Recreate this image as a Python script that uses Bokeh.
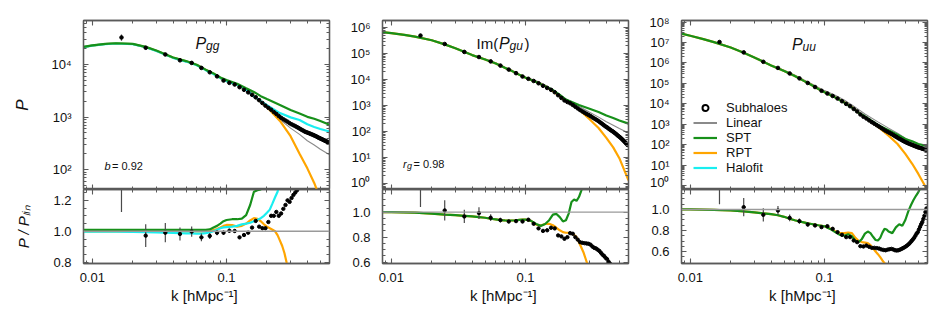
from bokeh.plotting import figure
from bokeh.layouts import row, column
from bokeh.models import (FixedTicker, LogAxis, LinearAxis,
                          Span, Label, Legend, LegendItem)
from bokeh.embed import file_html
from bokeh.resources import INLINE

# ---------------- data ----------------
# subhalo measurements (bin centres)
k_pts = [0.0165, 0.025, 0.035, 0.045, 0.055, 0.065, 0.075, 0.085, 0.095, 0.105,
         0.115, 0.125, 0.135, 0.145, 0.155, 0.165, 0.175, 0.185, 0.195, 0.205,
         0.215, 0.225, 0.235, 0.245, 0.255, 0.265, 0.275, 0.285, 0.295, 0.305,
         0.315, 0.325, 0.335, 0.345, 0.355, 0.365, 0.375, 0.385, 0.395, 0.405,
         0.415, 0.425, 0.435, 0.445, 0.455, 0.465, 0.475, 0.485, 0.495, 0.505,
         0.515, 0.525, 0.535, 0.545, 0.555, 0.565, 0.575]

P_gg_pts = [3.26e4, 2.08e4, 1.55e4, 1.2e4, 1.07e4, 8.6e3, 7.1e3, 5.95e3, 4.95e3, 4.47e3,
            4.16e3, 3.7e3, 3.3e3, 2.95e3, 2.65e3, 2.38e3, 2.1e3, 1.85e3, 1.65e3, 1.5e3,
            1.38e3, 1.25e3, 1.15e3, 1.05e3, 970, 910, 860, 815, 765, 729,
            701, 673, 645, 618, 592, 568, 547, 527, 514, 501,
            489, 477, 465, 453, 442, 431, 418, 406, 396, 387,
            378, 369, 360, 353, 345, 336, 329]
R_gg_pts = [1.30, 0.972, 0.991, 0.983, 0.998, 0.961, 0.970, 0.991, 0.991, 1.004,
            1.002, 0.961, 0.976, 0.991, 1.024, 1.067, 1.030, 1.020, 1.020, 1.060,
            1.100, 1.100, 1.125, 1.100, 1.115, 1.145, 1.170, 1.200, 1.190, 1.215,
            1.235, 1.250, 1.265, 1.280, 1.300, 1.320, 1.350, 1.380, 1.420, 1.440,
            1.460, 1.480, 1.500, 1.510, 1.530, 1.550, 1.560, 1.580, 1.590, 1.600,
            1.610, 1.620, 1.630, 1.640, 1.650, 1.655, 1.660]
E_gg = [0.135, 0.076, 0.063, 0.043, 0.033, 0.026, 0.020, 0.017, 0.015, 0.012,
        0.011, 0.010, 0.009, 0.008, 0.008, 0.007, 0.007, 0.007, 0.006, 0.006,
        0.006, 0.006, 0.006, 0.006, 0.005, 0.005, 0.005, 0.005, 0.005, 0.005,
        0.005, 0.005, 0.005, 0.005, 0.005, 0.005, 0.005, 0.005, 0.005, 0.005,
        0.005, 0.005, 0.005, 0.005, 0.005, 0.005, 0.005, 0.005, 0.005, 0.005,
        0.005, 0.005, 0.005, 0.005, 0.005, 0.005, 0.005]

P_gu_pts = [5.0e5, 2.37e5, 1.175e5, 7.47e4, 5.08e4, 3.5e4, 2.46e4, 1.79e4, 1.33e4, 1.087e4,
            8.95e3, 7.32e3, 5.85e3, 4.83e3, 4.09e3, 3.31e3, 2.54e3, 2.0e3, 1.6e3, 1.39e3,
            1.25e3, 1.075e3, 917, 788, 684, 607, 542, 486, 440, 398,
            357, 324, 295, 268, 242, 217, 195, 176, 159, 147,
            133, 122, 112, 104, 95.5, 87.4, 80.2, 72.4, 66.7, 61.6,
            56.1, 51.0, 46.3, 42.0, 38.1, 34.4, 31.1]
R_gu_pts = [1.20, 1.013, 0.965, 0.992, 0.955, 0.936, 0.925, 0.928, 0.925, 0.939,
            0.907, 0.870, 0.850, 0.855, 0.875, 0.870, 0.814, 0.806, 0.787, 0.800,
            0.832, 0.827, 0.800, 0.780, 0.760, 0.755, 0.752, 0.750, 0.747, 0.740,
            0.725, 0.715, 0.710, 0.700, 0.690, 0.675, 0.660, 0.650, 0.635, 0.625,
            0.605, 0.590, 0.575, 0.565, 0.550, 0.535, 0.520, 0.500, 0.485, 0.470,
            0.450, 0.430, 0.410, 0.390, 0.370, 0.350, 0.330]
E_gu = [0.133, 0.080, 0.055, 0.047, 0.028, 0.021, 0.016, 0.015, 0.013, 0.011,
        0.010, 0.009, 0.009, 0.008, 0.008, 0.007, 0.007, 0.007, 0.006, 0.006,
        0.006, 0.006, 0.006, 0.006, 0.005, 0.005, 0.005, 0.005, 0.005, 0.005,
        0.005, 0.005, 0.005, 0.005, 0.005, 0.005, 0.005, 0.005, 0.005, 0.005,
        0.005, 0.005, 0.005, 0.005, 0.005, 0.005, 0.005, 0.005, 0.005, 0.005,
        0.005, 0.005, 0.005, 0.005, 0.005, 0.005, 0.005]

P_uu_pts = [1.06e7, 3.3e6, 1.14e6, 5.72e5, 3.07e5, 1.77e5, 1.05e5, 6.64e4, 4.35e4, 3.2e4,
            2.42e4, 1.82e4, 1.34e4, 9.92e3, 7.67e3, 5.62e3, 4.24e3, 3.02e3, 2.33e3, 1.92e3,
            1.55e3, 1.27e3, 1.07e3, 899, 766, 650, 556, 480, 425, 379,
            338, 298, 262, 234, 208, 188, 170, 154, 140, 130,
            121, 113, 106, 100, 94.2, 88.5, 84.1, 79.4, 75.2, 72.5,
            69.8, 67.1, 64.1, 62.2, 60.2, 58.5, 57.1]
R_uu_pts = [1.22, 1.022, 0.949, 0.990, 0.920, 0.889, 0.857, 0.848, 0.832, 0.841,
            0.816, 0.784, 0.759, 0.737, 0.737, 0.705, 0.689, 0.651, 0.648, 0.657,
            0.645, 0.635, 0.635, 0.632, 0.628, 0.620, 0.615, 0.612, 0.618, 0.622,
            0.625, 0.620, 0.612, 0.610, 0.612, 0.618, 0.625, 0.633, 0.641, 0.650,
            0.660, 0.672, 0.685, 0.700, 0.715, 0.730, 0.750, 0.770, 0.784, 0.810,
            0.835, 0.860, 0.880, 0.910, 0.940, 0.975, 1.010]
E_uu = [0.140, 0.085, 0.066, 0.044, 0.035, 0.028, 0.023, 0.018, 0.014, 0.012,
        0.011, 0.010, 0.009, 0.008, 0.008, 0.007, 0.007, 0.007, 0.006, 0.006,
        0.006, 0.006, 0.006, 0.006, 0.005, 0.005, 0.005, 0.005, 0.005, 0.005,
        0.005, 0.005, 0.005, 0.005, 0.005, 0.005, 0.005, 0.005, 0.005, 0.005,
        0.005, 0.005, 0.005, 0.005, 0.005, 0.005, 0.005, 0.005, 0.005, 0.005,
        0.005, 0.005, 0.005, 0.005, 0.005, 0.005, 0.005]

# model spectra (upper panels)
k_top = [0.0086, 0.01, 0.0125, 0.015, 0.02, 0.025, 0.03, 0.04, 0.05, 0.06,
         0.07, 0.08, 0.09, 0.1, 0.12, 0.14, 0.16, 0.18, 0.2, 0.25,
         0.3, 0.35, 0.4, 0.45, 0.5, 0.585]

gg_lin = [2.14e4, 2.29e4, 2.45e4, 2.51e4, 2.45e4, 2.14e4, 1.82e4, 1.35e4, 1.15e4, 9.8e3,
          7.9e3, 6.6e3, 5.4e3, 4.7e3, 4.0e3, 3.2e3, 2.35e3, 1.85e3, 1.5e3, 900,
          617, 468, 355, 295, 245, 193]
gg_spt = [2.16e4, 2.31e4, 2.47e4, 2.53e4, 2.47e4, 2.16e4, 1.84e4, 1.36e4, 1.16e4, 9.9e3,
          7.97e3, 6.77e3, 5.67e3, 5.04e3, 4.31e3, 3.54e3, 3.0e3, 2.5e3, 2.2e3, 1.7e3,
          1.36e3, 1.17e3, 1.01e3, 929, 845, 714]
gg_rpt = [2.14e4, 2.29e4, 2.45e4, 2.51e4, 2.45e4, 2.14e4, 1.82e4, 1.35e4, 1.15e4, 9.8e3,
          7.9e3, 6.65e3, 5.54e3, 4.89e3, 4.12e3, 3.36e3, 2.55e3, 1.97e3, 1.55e3, 846,
          432, 201, 106, 56, 28, 7.7]
gg_halo = [2.136e4, 2.285e4, 2.443e4, 2.502e4, 2.44e4, 2.127e4, 1.807e4, 1.337e4, 1.135e4, 9.65e3,
           7.8e3, 6.6e3, 5.5e3, 4.83e3, 4.14e3, 3.36e3, 2.5e3, 2.0e3, 1.68e3, 1.19e3,
           987, 880, 728, 649, 593, 531]

gu_lin = [6.8e5, 6.26e5, 5.36e5, 4.57e5, 3.35e5, 2.34e5, 1.66e5, 9.2e4, 6.3e4, 4.46e4,
          3.08e4, 2.25e4, 1.64e4, 1.28e4, 9.1e3, 6.25e3, 4.1e3, 2.7e3, 1.84e3, 951,
          562, 365, 243, 179, 134, 90]
gu_spt = [6.8e5, 6.25e5, 5.34e5, 4.55e5, 3.31e5, 2.29e5, 1.62e5, 8.88e4, 6.02e4, 4.2e4,
          2.88e4, 2.1e4, 1.54e4, 1.2e4, 8.24e3, 5.66e3, 4.02e3, 2.59e3, 1.72e3, 1.065e3,
          770, 573, 418, 335, 271, 205]
gu_rpt = [6.8e5, 6.25e5, 5.34e5, 4.55e5, 3.31e5, 2.29e5, 1.62e5, 8.88e4, 6.02e4, 4.2e4,
          2.88e4, 2.1e4, 1.54e4, 1.2e4, 8.19e3, 5.66e3, 3.67e3, 2.31e3, 1.54e3, 723,
          303, 139, 58, 25, 9.6, 1.35]

uu_lin = [2.73e7, 2.16e7, 1.48e7, 1.05e7, 5.78e6, 3.23e6, 1.91e6, 7.96e5, 4.34e5, 2.57e5,
          1.52e5, 9.73e4, 6.29e4, 4.43e4, 2.62e4, 1.54e4, 8.85e3, 5.18e3, 3.18e3, 1.31e3,
          647, 360, 209, 137, 92.5, 53.2]
uu_spt = [2.73e7, 2.16e7, 1.477e7, 1.046e7, 5.72e6, 3.17e6, 1.86e6, 7.6e5, 4.04e5, 2.31e5,
          1.33e5, 8.39e4, 5.35e4, 3.72e4, 2.06e4, 1.155e4, 6.59e3, 3.57e3, 2.45e3, 924,
          511, 306, 188, 146, 108, 85]
uu_rpt = [2.73e7, 2.16e7, 1.477e7, 1.046e7, 5.72e6, 3.17e6, 1.86e6, 7.6e5, 4.04e5, 2.31e5,
          1.33e5, 8.39e4, 5.35e4, 3.72e4, 2.07e4, 1.19e4, 6.86e3, 3.63e3, 2.18e3, 753,
          278, 108, 35.5, 11.6, 3.7, 0.585]

# model / linear ratios (lower panels)
k_rat = [0.0086, 0.01, 0.015, 0.02, 0.025, 0.03, 0.035, 0.04, 0.045, 0.05,
         0.055, 0.06, 0.065, 0.07, 0.075, 0.08, 0.085, 0.09, 0.095, 0.1,
         0.11, 0.12, 0.13, 0.14, 0.15, 0.16, 0.17, 0.18, 0.19, 0.2,
         0.21, 0.22, 0.23, 0.24, 0.25, 0.26, 0.27, 0.28, 0.29, 0.3,
         0.32, 0.34, 0.36, 0.38, 0.4, 0.42, 0.44, 0.46, 0.48, 0.5,
         0.52, 0.54, 0.56, 0.585]

rgg_spt = [1.009, 1.009, 1.009, 1.009, 1.009, 1.009, 1.009, 1.009, 1.009, 1.009,
           1.009, 1.009, 1.009, 1.009, 1.012, 1.025, 1.035, 1.05, 1.065, 1.073,
           1.078, 1.078, 1.082, 1.105, 1.17, 1.255, 1.265, 1.27, 1.42, 1.55,
           1.65, 1.72, 1.79, 1.85, 1.92, 1.97, 2.02, 2.07, 2.12, 2.2,
           2.3, 2.42, 2.55, 2.7, 2.85, 2.97, 3.09, 3.21, 3.33, 3.45,
           3.52, 3.58, 3.64, 3.7]
rgg_rpt = [1.0, 1.0, 1.0, 1.0, 1.0, 1.0, 1.0, 1.0, 1.0, 1.0,
           1.0, 1.0, 1.0, 1.0, 1.0, 1.008, 1.015, 1.025, 1.035, 1.041,
           1.04, 1.03, 1.035, 1.05, 1.07, 1.085, 1.08, 1.065, 1.045, 1.03,
           1.02, 1.01, 1.0, 0.975, 0.94, 0.905, 0.86, 0.80, 0.75, 0.70,
           0.61, 0.52, 0.45, 0.37, 0.30, 0.26, 0.21, 0.18, 0.14, 0.115,
           0.09, 0.07, 0.055, 0.04]
rgg_halo = [0.998, 0.998, 0.997, 0.996, 0.994, 0.993, 0.991, 0.99, 0.988, 0.987,
            0.986, 0.985, 0.985, 0.988, 0.993, 1.0, 1.01, 1.02, 1.025, 1.027,
            1.03, 1.035, 1.045, 1.05, 1.055, 1.065, 1.075, 1.085, 1.10, 1.12,
            1.14, 1.18, 1.22, 1.255, 1.32, 1.37, 1.43, 1.49, 1.55, 1.6,
            1.68, 1.78, 1.88, 1.97, 2.05, 2.1, 2.17, 2.23, 2.3, 2.42,
            2.5, 2.57, 2.65, 2.75]

rgu_spt = [1.0, 0.999, 0.995, 0.988, 0.979, 0.975, 0.97, 0.965, 0.96, 0.955,
           0.947, 0.942, 0.936, 0.934, 0.933, 0.933, 0.935, 0.938, 0.94, 0.94,
           0.93, 0.905, 0.89, 0.905, 0.935, 0.98, 0.985, 0.96, 0.925, 0.935,
           0.99, 1.08, 1.10, 1.09, 1.12, 1.17, 1.22, 1.27, 1.32, 1.37,
           1.45, 1.53, 1.6, 1.66, 1.72, 1.78, 1.84, 1.9, 1.96, 2.02,
           2.08, 2.14, 2.2, 2.28]
rgu_rpt = [1.0, 0.999, 0.995, 0.988, 0.979, 0.975, 0.97, 0.965, 0.96, 0.955,
           0.947, 0.942, 0.936, 0.934, 0.933, 0.933, 0.935, 0.938, 0.94, 0.94,
           0.93, 0.90, 0.893, 0.905, 0.907, 0.895, 0.875, 0.855, 0.84, 0.835,
           0.835, 0.83, 0.82, 0.80, 0.76, 0.72, 0.68, 0.63, 0.58, 0.54,
           0.47, 0.41, 0.35, 0.29, 0.24, 0.2, 0.16, 0.125, 0.1, 0.072,
           0.055, 0.04, 0.028, 0.015]

ruu_spt = [1.0, 1.0, 0.996, 0.99, 0.981, 0.972, 0.963, 0.955, 0.945, 0.93,
           0.912, 0.897, 0.886, 0.877, 0.868, 0.862, 0.856, 0.85, 0.845, 0.84,
           0.815, 0.785, 0.758, 0.75, 0.765, 0.745, 0.70, 0.69, 0.72, 0.77,
           0.79, 0.775, 0.74, 0.71, 0.705, 0.73, 0.78, 0.815, 0.81, 0.79,
           0.775, 0.83, 0.86, 0.845, 0.9, 0.98, 1.04, 1.09, 1.13, 1.165,
           1.21, 1.27, 1.4, 1.6]
ruu_rpt = [1.0, 1.0, 0.996, 0.99, 0.981, 0.972, 0.963, 0.955, 0.945, 0.93,
           0.912, 0.897, 0.886, 0.877, 0.868, 0.862, 0.856, 0.85, 0.845, 0.84,
           0.818, 0.792, 0.778, 0.775, 0.78, 0.775, 0.73, 0.70, 0.69, 0.685,
           0.68, 0.66, 0.63, 0.60, 0.575, 0.546, 0.515, 0.49, 0.46, 0.43,
           0.38, 0.33, 0.27, 0.21, 0.17, 0.13, 0.1, 0.075, 0.055, 0.04,
           0.03, 0.022, 0.016, 0.011]

# axis ticks
x_major = [0.01, 0.1]
x_minor = [0.009, 0.02, 0.03, 0.04, 0.05, 0.06, 0.07, 0.08, 0.09, 0.2, 0.3, 0.4, 0.5]
x_labels = {0.01: "0.01", 0.1: "0.1"}

# ---------------- style ----------------
FONT = "Liberation Sans"
FRAME = "#5a5a5a"
TXT = "#111111"
C_LIN = "#8a8a8a"
C_SPT = "#17901a"
C_RPT = "#ffa500"
C_HALO = "#19eef0"
C_PT = "#000000"
C_ERR = "#4a4a4a"
XR = (0.0086, 0.585)
SUP = str.maketrans("0123456789-", "⁰¹²³⁴⁵⁶⁷⁸⁹⁻")
NAN = float("nan")


def style_axis(ax, show_labels):
    ax.major_tick_in = 5
    ax.major_tick_out = 0
    ax.minor_tick_in = 3
    ax.minor_tick_out = 0
    ax.axis_line_color = FRAME
    ax.axis_line_width = 1.3
    ax.major_tick_line_color = FRAME
    ax.minor_tick_line_color = FRAME
    ax.major_tick_line_width = 1.1
    ax.minor_tick_line_width = 1.0
    ax.major_label_text_font = FONT
    ax.major_label_text_color = TXT
    ax.major_label_text_font_size = "13px"
    ax.axis_label_text_font = FONT
    ax.axis_label_text_color = TXT
    if not show_labels:
        ax.major_label_text_font_size = "1px"
        ax.major_label_text_alpha = 0
        ax.major_label_standoff = 0


def make_fig(left, right, top, bottom, fh, yr, ylog):
    p = figure(frame_width=246, frame_height=fh,
               min_border_left=left, min_border_right=right,
               min_border_top=top, min_border_bottom=bottom,
               x_axis_type="log", y_axis_type="log" if ylog else "linear",
               x_range=XR, y_range=yr,
               output_backend="svg", toolbar_location=None)
    p.grid.visible = False
    p.outline_line_color = FRAME
    p.outline_line_width = 1.3
    p.background_fill_color = "white"
    p.border_fill_color = "white"
    return p


def finish_axes(p, yticks, yminor, ylabels, ylog, show_x_labels):
    above = LogAxis(ticker=FixedTicker(ticks=x_major, minor_ticks=x_minor))
    p.add_layout(above, "above")
    yt = FixedTicker(ticks=yticks, minor_ticks=yminor)
    right = LogAxis(ticker=yt) if ylog else LinearAxis(ticker=yt)
    p.add_layout(right, "right")
    bx = p.below[0]
    bx.ticker = FixedTicker(ticks=x_major, minor_ticks=x_minor)
    bx.major_label_overrides = x_labels
    ly = p.left[0]
    ly.ticker = FixedTicker(ticks=yticks, minor_ticks=yminor)
    ly.major_label_overrides = ylabels
    style_axis(above, False)
    style_axis(right, False)
    style_axis(ly, True)
    ly.major_label_standoff = 12
    style_axis(bx, show_x_labels)
    if show_x_labels:
        bx.major_label_standoff = 9
        bx.axis_label = "k  [hMpc⁻¹]"
        bx.axis_label_text_font_size = "15px"
        bx.axis_label_text_font_style = "normal"
        bx.axis_label_standoff = 2


def log_ticks(lo, hi):
    major = [10.0 ** e for e in range(lo, hi + 1)]
    minor = [m * 10.0 ** e for e in range(lo - 1, hi + 1) for m in range(2, 10)]
    labels = {10.0 ** e: "10" + str(e).translate(SUP) for e in range(lo, hi + 1)}
    return major, minor, labels


def lin_ticks(vals, minors):
    return vals, minors, {v: "%.1f" % v for v in vals}


def add_top(p, lin, models, pts_k, pts_p, errs):
    p.line(k_top, lin, line_color=C_LIN, line_width=1.1)
    for name, vals, col in models:
        p.line(k_top, vals, line_color=col, line_width=2.2)
    lo = [v * (1 - e) for v, e in zip(pts_p, errs)]
    hi = [v * (1 + e) for v, e in zip(pts_p, errs)]
    p.segment(pts_k, lo, pts_k, hi, line_color=C_ERR, line_width=1.2)
    p.scatter(pts_k, pts_p, marker="circle", size=3.6, fill_color=C_PT, line_color=C_PT)


def add_bot(p, models, pts_k, pts_r, errs):
    p.add_layout(Span(location=1.0, dimension="width", line_color="#9a9a9a", line_width=1.4))
    for name, vals, col in models:
        p.line(k_rat, vals, line_color=col, line_width=2.2)
    lo = [v - v * e for v, e in zip(pts_r, errs)]
    hi = [v + v * e for v, e in zip(pts_r, errs)]
    p.segment(pts_k, lo, pts_k, hi, line_color=C_ERR, line_width=1.2)
    p.scatter(pts_k, pts_r, marker="circle", size=3.4, fill_color=C_PT, line_color=C_PT)


def lab(p, x, y, text, size, style="normal"):
    p.add_layout(Label(x=x, y=y, x_units="screen", y_units="screen", text=text,
                       text_font=FONT, text_font_size=size, text_font_style=style,
                       text_color=TXT, text_baseline="alphabetic"))


# ---------------- panel 1 : P_gg ----------------
t1 = make_fig(83, 15, 20, 0, 169, (42, 6.85e4), True)
add_top(t1, gg_lin, [("rpt", gg_rpt, C_RPT), ("halo", gg_halo, C_HALO), ("spt", gg_spt, C_SPT)],
        k_pts, P_gg_pts, E_gg)
maj, mnr, lbl = log_ticks(2, 4)
finish_axes(t1, maj, mnr, lbl, True, False)
t1.left[0].axis_label = "P"
t1.left[0].axis_label_text_font_style = "italic"
t1.left[0].axis_label_text_font_size = "17px"
t1.left[0].axis_label_standoff = 16
lab(t1, 112, 146, "P", "16px", "italic")
lab(t1, 122.5, 144, "gg", "12px", "italic")
lab(t1, 21, 24, "b", "11px", "italic")
lab(t1, 28.5, 24, "= 0.92", "11px")

b1 = make_fig(83, 15, 0, 45, 74, (0.792, 1.27), False)
add_bot(b1, [("rpt", rgg_rpt, C_RPT), ("halo", rgg_halo, C_HALO), ("spt", rgg_spt, C_SPT)],
        k_pts, R_gg_pts, E_gg)
maj, mnr, lbl = lin_ticks([0.8, 1.0, 1.2], [0.85, 0.9, 0.95, 1.05, 1.1, 1.15, 1.25])
finish_axes(b1, maj, mnr, lbl, False, True)
b1.left[0].axis_label = "P / Pₗᵢₙ"
b1.left[0].axis_label_text_font_style = "italic"
b1.left[0].axis_label_text_font_size = "15px"
b1.left[0].axis_label_standoff = 18

# ---------------- panel 2 : Im(P_gu) ----------------
t2 = make_fig(38, 17, 20, 0, 169, (0.6, 1.9e6), True)
add_top(t2, gu_lin, [("rpt", gu_rpt, C_RPT), ("spt", gu_spt, C_SPT)],
        k_pts, P_gu_pts, E_gu)
maj, mnr, lbl = log_ticks(0, 6)
finish_axes(t2, maj, mnr, lbl, True, False)
lab(t2, 94, 146, "Im(", "15px")
lab(t2, 116.5, 146, "P", "16px", "italic")
lab(t2, 127, 143.5, "gu", "12px", "italic")
lab(t2, 142, 146, ")", "15px")
lab(t2, 20.5, 26, "r", "11px", "italic")
lab(t2, 24.5, 23.5, "g", "9px", "italic")
lab(t2, 31, 26, "= 0.98", "11px")

b2 = make_fig(38, 17, 0, 45, 74, (0.59, 1.18), False)
add_bot(b2, [("rpt", rgu_rpt, C_RPT), ("spt", rgu_spt, C_SPT)], k_pts, R_gu_pts, E_gu)
maj, mnr, lbl = lin_ticks([0.6, 0.8, 1.0], [0.65, 0.7, 0.75, 0.85, 0.9, 0.95, 1.05, 1.1, 1.15])
finish_axes(b2, maj, mnr, lbl, False, True)

# ---------------- panel 3 : P_uu ----------------
t3 = make_fig(36, 13, 20, 0, 169, (0.64, 1.2e8), True)
add_top(t3, uu_lin, [("rpt", uu_rpt, C_RPT), ("spt", uu_spt, C_SPT)],
        k_pts, P_uu_pts, E_uu)
maj, mnr, lbl = log_ticks(0, 8)
finish_axes(t3, maj, mnr, lbl, True, False)
lab(t3, 110.5, 145, "P", "16px", "italic")
lab(t3, 121, 143, "uu", "12px", "italic")

# legend proxies (single NaN point, nothing drawn in the frame)
pr_pts = t3.scatter([NAN], [NAN], marker="circle", size=7, fill_color=None, line_color="black", line_width=2)
pr_lin = t3.line([NAN, NAN], [NAN, NAN], line_color=C_LIN, line_width=2)
pr_spt = t3.line([NAN, NAN], [NAN, NAN], line_color=C_SPT, line_width=2.2)
pr_rpt = t3.line([NAN, NAN], [NAN, NAN], line_color=C_RPT, line_width=2.2)
pr_halo = t3.line([NAN, NAN], [NAN, NAN], line_color=C_HALO, line_width=2.2)
leg = Legend(items=[LegendItem(label="Subhaloes", renderers=[pr_pts]),
                    LegendItem(label="Linear", renderers=[pr_lin]),
                    LegendItem(label="SPT", renderers=[pr_spt]),
                    LegendItem(label="RPT", renderers=[pr_rpt]),
                    LegendItem(label="Halofit", renderers=[pr_halo])],
             location=(12, 14), orientation="vertical",
             border_line_color=None, background_fill_alpha=0,
             padding=0, margin=0, spacing=0, glyph_width=24, glyph_height=15,
             label_height=15, label_standoff=9,
             label_text_font=FONT, label_text_font_size="13px", label_text_color=TXT)
t3.add_layout(leg)

b3 = make_fig(36, 13, 0, 45, 74, (0.486, 1.19), False)
add_bot(b3, [("rpt", ruu_rpt, C_RPT), ("spt", ruu_spt, C_SPT)], k_pts, R_uu_pts, E_uu)
maj, mnr, lbl = lin_ticks([0.6, 0.8, 1.0], [0.5, 0.55, 0.65, 0.7, 0.75, 0.85, 0.9, 0.95, 1.05, 1.1, 1.15])
finish_axes(b3, maj, mnr, lbl, False, True)

layout = row(column(t1, b1), column(t2, b2), column(t3, b3))
open("out.html", "w").write(file_html(layout, INLINE))
